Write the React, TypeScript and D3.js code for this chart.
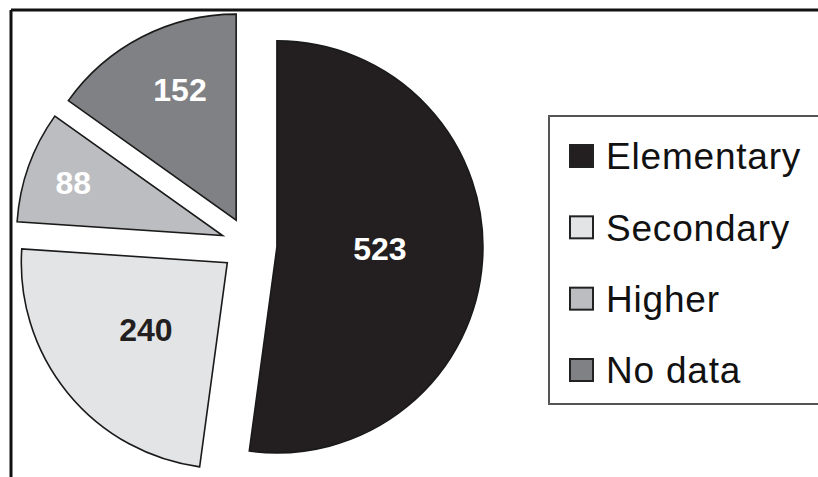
import React from "react";
import * as d3 from "d3";

const categories = ["Elementary", "Secondary", "Higher", "No data"];
const values = [523, 240, 88, 152];
const colors = ["#231f20", "#e3e4e6", "#bcbdc0", "#808184"];
const labelColors = ["#ffffff", "#231f20", "#ffffff", "#ffffff"];
const labelRadiusFactor = [0.5, 0.51, 0.77, 0.69];
const labelAngleShiftDeg = [-3, 0, 0, 4];

const W = 818;
const H = 477;
const cx = 249;
const cy = 245;
const R = 206;
const explode = 28;

export default function App() {
  const pie = d3
    .pie<number>()
    .sort(null)
    .value((d) => d)
    .startAngle(0)
    .endAngle(2 * Math.PI);
  const arcs = pie(values);
  const arcGen = d3.arc<d3.PieArcDatum<number>>().innerRadius(0).outerRadius(R);

  const legendY = d3
    .scalePoint<string>()
    .domain(categories)
    .range([156, 370]);

  return (
    <svg
      width={W}
      height={H}
      style={{ position: "fixed", left: 0, top: 0, background: "#fff" }}
      fontFamily="'Liberation Sans', Arial, sans-serif"
    >
      <rect x={0} y={0} width={W} height={H} fill="#fff" />
      {/* frame */}
      <line x1={11} y1={10} x2={W} y2={10} stroke="#111" strokeWidth={3} />
      <line x1={11} y1={10} x2={11} y2={H} stroke="#111" strokeWidth={3} />

      {arcs.map((a, i) => {
        const mid = (a.startAngle + a.endAngle) / 2;
        const dx = Math.sin(mid) * explode;
        const dy = -Math.cos(mid) * explode;
        const la = mid + (labelAngleShiftDeg[i] * Math.PI) / 180;
        const lr = R * labelRadiusFactor[i];
        const lx = Math.sin(la) * lr;
        const ly = -Math.cos(la) * lr;
        return (
          <g key={categories[i]} transform={`translate(${cx + dx},${cy + dy})`}>
            <path
              d={arcGen(a) || ""}
              fill={colors[i]}
              stroke="#1a1a1a"
              strokeWidth={1.6}
              strokeLinejoin="miter"
            />
            <text
              x={lx}
              y={ly}
              textAnchor="middle"
              dy="0.36em"
              fontSize={32}
              fontWeight="bold"
              fill={labelColors[i]}
            >
              {values[i]}
            </text>
          </g>
        );
      })}

      {/* legend */}
      <rect x={549} y={116} width={W - 549 + 10} height={288} fill="#fff" stroke="#555" strokeWidth={2} />
      {categories.map((c, i) => {
        const y = legendY(c) as number;
        return (
          <g key={c}>
            <rect x={570} y={y - 11} width={23} height={22} fill={colors[i]} stroke="#222" strokeWidth={2} />
            <text x={606} y={y} dy="0.36em" fontSize={37} fill="#111" letterSpacing={0.8}>
              {c}
            </text>
          </g>
        );
      })}
    </svg>
  );
}
